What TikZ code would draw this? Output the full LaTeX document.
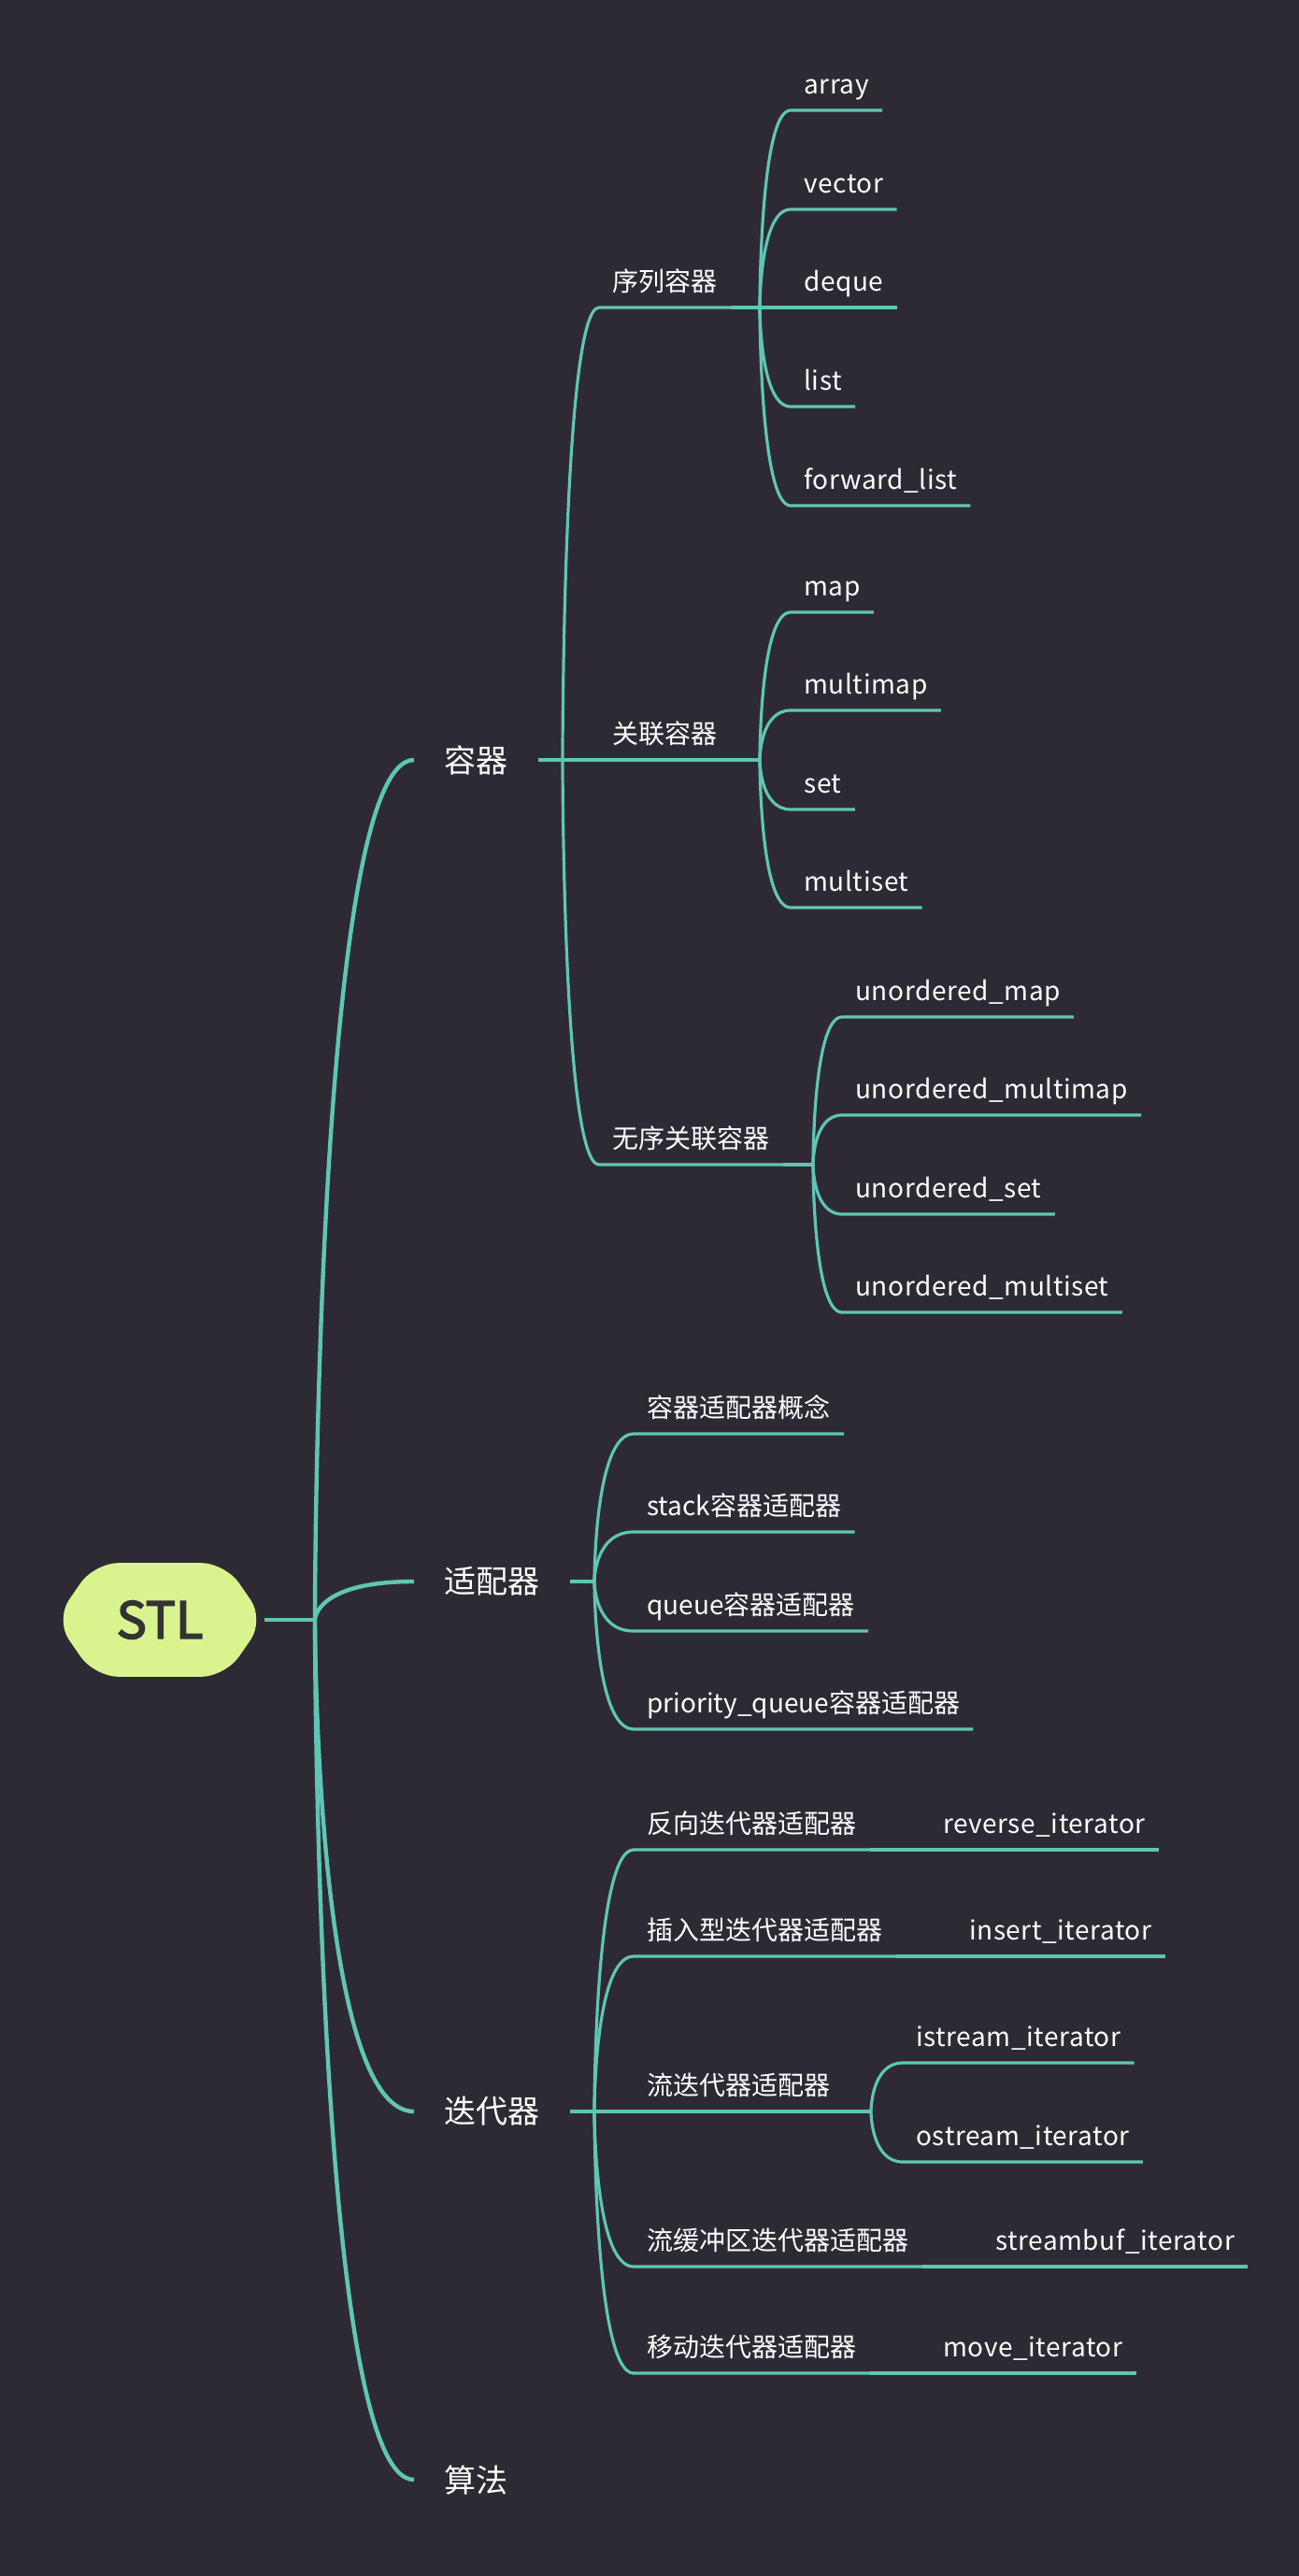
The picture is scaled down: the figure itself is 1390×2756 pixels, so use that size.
\documentclass[tikz,border=0pt]{standalone}
\usepackage{fontspec}
\setmainfont{Noto Sans CJK SC}
\newfontfamily\latinfont{Noto Sans CJK SC}[LetterSpace=2]
\newfontfamily\stlfont{Noto Sans CJK SC}[FakeBold=3]
\usetikzlibrary{positioning,backgrounds}

\definecolor{bgcol}{HTML}{2E2A33}
\definecolor{linecol}{HTML}{5FC6B4}
\definecolor{stlfill}{HTML}{D9F48F}
\definecolor{stltext}{HTML}{333333}

\tikzset{
  central/.style={text=stltext, minimum width=111.5pt, minimum height=60.5pt,
    font=\fontsize{27}{32}\stlfont},
  maintopic/.style={anchor=west, inner xsep=16pt, inner ysep=0pt, text=white,
    font=\fontsize{17}{20}\selectfont},
  subtopic/.style={anchor=south west, inner xsep=7pt, inner ysep=0pt,
    text depth=8.5pt, text=white, font=\fontsize{14}{16}\selectfont},
  leaf/.style={subtopic, font=\fontsize{14}{16}\latinfont},
  trunk/.style={draw=linecol, line width=2.2pt},
  branch/.style={draw=linecol, line width=1.6pt},
}

\begin{document}
\begin{tikzpicture}[x=0.5pt,y=-0.5pt]
\useasboundingbox (0,0) rectangle (1390,2756);

% root
\node[central] (stl) at (171,1733) {STL};
\begin{pgfonlayer}{background}
\fill[bgcol] (0,0) rectangle (1390,2756);
\fill[stlfill, rounded corners=13pt] ([xshift=21pt]stl.north west) -- ([xshift=-21pt]stl.north east)
  -- (stl.east) -- ([xshift=-21pt]stl.south east) -- ([xshift=21pt]stl.south west) -- (stl.west) -- cycle;
\end{pgfonlayer}
\coordinate (j0) at (337,1733);
\draw[trunk] (stl.east) -- (j0);

% main topics
\node[maintopic] (rongqi) at (443,813) {容器};
\node[maintopic] (shipeiqi) at (443,1692) {适配器};
\node[maintopic] (diedaiqi) at (443,2259) {迭代器};
\node[maintopic] (suanfa) at (443,2653) {算法};
\draw[trunk] (j0) .. controls (j0) and (j0 |- rongqi.west) .. (rongqi.west);
\draw[trunk] (j0) .. controls (j0) and (j0 |- shipeiqi.west) .. (shipeiqi.west);
\draw[trunk] (j0) .. controls (j0) and (j0 |- diedaiqi.west) .. (diedaiqi.west);
\draw[trunk] (j0) .. controls (j0) and (j0 |- suanfa.west) .. (suanfa.west);

% 容器
\coordinate (j1) at (602,813);
\draw[branch] (rongqi.east) -- (j1);
\node[subtopic] (xulie) at (641,329) {序列容器};
\node[subtopic] (guanlian) at (641,813) {关联容器};
\node[subtopic] (wuxu) at (641,1246) {无序关联容器};
\draw[branch] (j1) .. controls (j1) and (j1 |- xulie.south west) .. (xulie.south west) -- (xulie.south east);
\draw[branch] (j1) -- (guanlian.south east);
\draw[branch] (j1) .. controls (j1) and (j1 |- wuxu.south west) .. (wuxu.south west) -- (wuxu.south east);

% 序列容器
\coordinate (j2) at (813,329);
\draw[branch] (xulie.south east) -- (j2);
\node[leaf] (array) at (846,118) {array};
\node[leaf] (vector) at (846,224) {vector};
\node[leaf] (deque) at (846,329) {deque};
\node[leaf] (list) at (846,435) {list};
\node[leaf] (fwlist) at (846,541) {forward\_list};
\draw[branch] (j2) .. controls (j2) and (j2 |- array.south west) .. (array.south west) -- (array.south east);
\draw[branch] (j2) .. controls (j2) and (j2 |- vector.south west) .. (vector.south west) -- (vector.south east);
\draw[branch] (j2) -- (deque.south east);
\draw[branch] (j2) .. controls (j2) and (j2 |- list.south west) .. (list.south west) -- (list.south east);
\draw[branch] (j2) .. controls (j2) and (j2 |- fwlist.south west) .. (fwlist.south west) -- (fwlist.south east);

% 关联容器
\coordinate (j3) at (813,813);
\draw[branch] (guanlian.south east) -- (j3);
\node[leaf] (map) at (846,655) {map};
\node[leaf] (multimap) at (846,760) {multimap};
\node[leaf] (set) at (846,866) {set};
\node[leaf] (multiset) at (846,971) {multiset};
\draw[branch] (j3) .. controls (j3) and (j3 |- map.south west) .. (map.south west) -- (map.south east);
\draw[branch] (j3) .. controls (j3) and (j3 |- multimap.south west) .. (multimap.south west) -- (multimap.south east);
\draw[branch] (j3) .. controls (j3) and (j3 |- set.south west) .. (set.south west) -- (set.south east);
\draw[branch] (j3) .. controls (j3) and (j3 |- multiset.south west) .. (multiset.south west) -- (multiset.south east);

% 无序关联容器
\coordinate (j4) at (870,1246);
\draw[branch] (wuxu.south east) -- (j4);
\node[leaf] (umap) at (901,1088) {unordered\_map};
\node[leaf] (umultimap) at (901,1193) {unordered\_multimap};
\node[leaf] (uset) at (901,1299) {unordered\_set};
\node[leaf] (umultiset) at (901,1404) {unordered\_multiset};
\draw[branch] (j4) .. controls (j4) and (j4 |- umap.south west) .. (umap.south west) -- (umap.south east);
\draw[branch] (j4) .. controls (j4) and (j4 |- umultimap.south west) .. (umultimap.south west) -- (umultimap.south east);
\draw[branch] (j4) .. controls (j4) and (j4 |- uset.south west) .. (uset.south west) -- (uset.south east);
\draw[branch] (j4) .. controls (j4) and (j4 |- umultiset.south west) .. (umultiset.south west) -- (umultiset.south east);

% 适配器
\coordinate (j5) at (636,1692);
\draw[branch] (shipeiqi.east) -- (j5);
\node[subtopic] (gainian) at (678,1534) {容器适配器概念};
\node[subtopic] (stack) at (678,1639) {stack容器适配器};
\node[subtopic] (queue) at (678,1745) {queue容器适配器};
\node[subtopic] (pqueue) at (678,1850) {priority\_queue容器适配器};
\draw[branch] (j5) .. controls (j5) and (j5 |- gainian.south west) .. (gainian.south west) -- (gainian.south east);
\draw[branch] (j5) .. controls (j5) and (j5 |- stack.south west) .. (stack.south west) -- (stack.south east);
\draw[branch] (j5) .. controls (j5) and (j5 |- queue.south west) .. (queue.south west) -- (queue.south east);
\draw[branch] (j5) .. controls (j5) and (j5 |- pqueue.south west) .. (pqueue.south west) -- (pqueue.south east);

% 迭代器
\coordinate (j6) at (636,2259);
\draw[branch] (diedaiqi.east) -- (j6);
\node[subtopic] (fanxiang) at (678,1979) {反向迭代器适配器};
\node[subtopic] (charu) at (678,2093) {插入型迭代器适配器};
\node[subtopic] (liu) at (678,2259) {流迭代器适配器};
\node[subtopic] (liuhc) at (678,2425) {流缓冲区迭代器适配器};
\node[subtopic] (yidong) at (678,2539) {移动迭代器适配器};
\draw[branch] (j6) .. controls (j6) and (j6 |- fanxiang.south west) .. (fanxiang.south west) -- (fanxiang.south east);
\draw[branch] (j6) .. controls (j6) and (j6 |- charu.south west) .. (charu.south west) -- (charu.south east);
\draw[branch] (j6) -- (liu.south east);
\draw[branch] (j6) .. controls (j6) and (j6 |- liuhc.south west) .. (liuhc.south west) -- (liuhc.south east);
\draw[branch] (j6) .. controls (j6) and (j6 |- yidong.south west) .. (yidong.south west) -- (yidong.south east);

\node[leaf, base right=32pt of fanxiang] (reverseit) {reverse\_iterator};
\node[leaf, base right=32pt of charu] (insertit) {insert\_iterator};
\node[leaf, base right=32pt of liuhc] (streambufit) {streambuf\_iterator};
\node[leaf, base right=32pt of yidong] (moveit) {move\_iterator};
\draw[branch] (fanxiang.south east) -- (reverseit.south east);
\draw[branch] (charu.south east) -- (insertit.south east);
\draw[branch] (liuhc.south east) -- (streambufit.south east);
\draw[branch] (yidong.south east) -- (moveit.south east);

% 流迭代器适配器
\coordinate (j7) at (932,2259);
\draw[branch] (liu.south east) -- (j7);
\node[leaf] (istreamit) at (966,2207) {istream\_iterator};
\node[leaf] (ostreamit) at (966,2313) {ostream\_iterator};
\draw[branch] (j7) .. controls (j7) and (j7 |- istreamit.south west) .. (istreamit.south west) -- (istreamit.south east);
\draw[branch] (j7) .. controls (j7) and (j7 |- ostreamit.south west) .. (ostreamit.south west) -- (ostreamit.south east);
\end{tikzpicture}
\end{document}
